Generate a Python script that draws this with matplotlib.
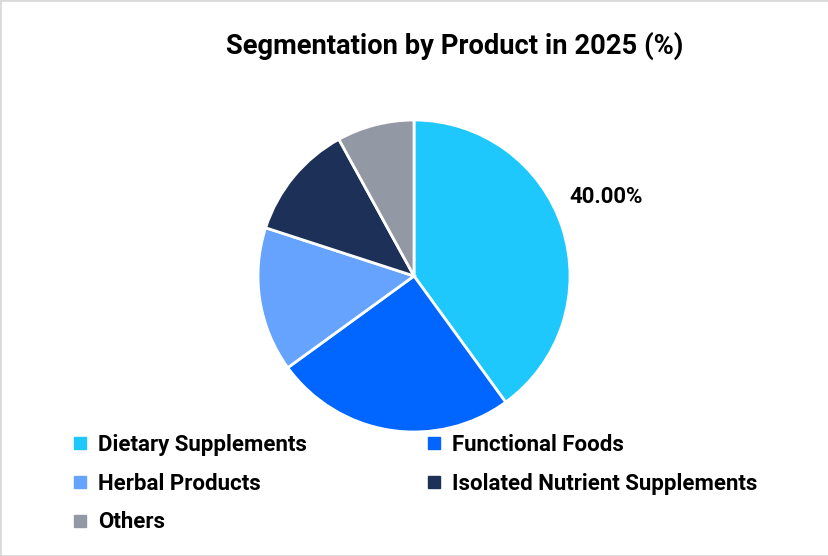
import numpy as np
import matplotlib
matplotlib.use("Agg")
import matplotlib.pyplot as plt
from matplotlib.lines import Line2D
from matplotlib.patches import Rectangle

plt.rcParams['font.family'] = ['Roboto', 'DejaVu Sans']

# data
categories = ["Dietary Supplements", "Functional Foods", "Herbal Products",
              "Isolated Nutrient Supplements", "Others"]
shares = [40, 25, 15, 12, 8]
colors = ["#1EC8FC", "#0066FF", "#66A3FF", "#1C3058", "#9398A5"]

fig = plt.figure(figsize=(8.29, 5.56), dpi=100)

# pie axes: centre ~ (414, 276) px, radius ~156 px
W, H = 829, 556
cx, cy, r = 414, 280, 156
ax = fig.add_axes([(cx - r) / W, (cy - r) / H, 2 * r / W, 2 * r / H])

wedges, _ = ax.pie(shares, colors=colors, startangle=90, counterclock=False,
                   radius=1.0, wedgeprops=dict(edgecolor="white", linewidth=2))
ax.set_xlim(-1, 1)
ax.set_ylim(-1, 1)
ax.set_aspect("equal")
ax.axis("off")

# only the largest slice is labelled
w0 = wedges[0]
ang = np.deg2rad((w0.theta1 + w0.theta2) / 2 + 4.5)
ax.text(1.33 * np.cos(ang), 1.32 * np.sin(ang), f"{shares[0]:.2f}%",
        ha="center", va="center", fontsize=16, fontweight="bold")

fig.text(0.548, 0.918, "Segmentation by Product in 2025 (%)", ha="center",
         va="center", fontsize=19.7, fontweight="bold")

# legend filled row by row (matplotlib fills columns first)
order = [0, 2, 4, 1, 3]
handles = [Line2D([], [], marker="s", linestyle="none", markersize=8,
                  markerfacecolor=colors[i], markeredgecolor=colors[i])
           for i in order]
labels = [categories[i] for i in order]
leg = fig.legend(handles, labels, ncol=2, loc="upper left",
                 bbox_to_anchor=(0.077, 0.236), frameon=False,
                 prop=dict(weight="bold", size=16),
                 handlelength=0.7, handletextpad=0.45, columnspacing=5.35,
                 labelspacing=0.76, borderaxespad=0)

fig.patches.append(Rectangle((0, 0), 1, 1, transform=fig.transFigure,
                             fill=False, edgecolor="#D9D9D9", linewidth=2))

fig.savefig("out.png", dpi=100)
